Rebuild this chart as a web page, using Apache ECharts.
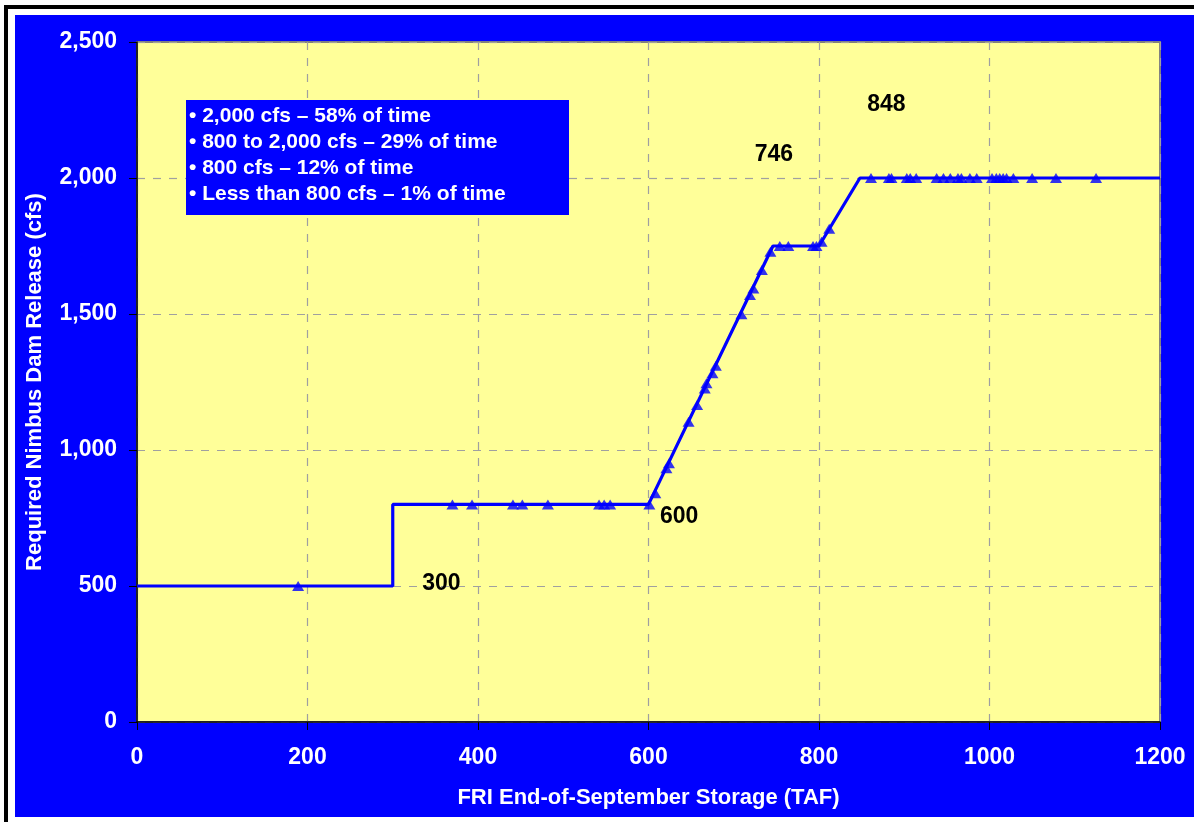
<!DOCTYPE html>
<html>
<head>
<meta charset="utf-8">
<script src="https://cdn.jsdelivr.net/npm/echarts@6/dist/echarts.min.js"></script>
<style>
html,body{margin:0;padding:0;background:#fff;}
#chart{width:1194px;height:822px;}
</style>
</head>
<body>
<div id="chart"></div>
<script>
// Rule line (FRI storage TAF -> required release cfs)
const ruleX = [0, 300, 300, 600, 746, 800, 848, 1200];
const ruleY = [500, 500, 800, 800, 1750, 1750, 2000, 2000];

// Simulated years (triangles)
const obsX = [189,
  370, 393, 441, 452, 482, 542, 548, 555, 601,
  608, 621, 624, 647, 657, 666, 668, 675, 679, 709, 719, 723, 733, 743,
  754, 764, 793, 797, 803, 812,
  861, 882, 885, 903, 907, 914, 938, 946, 954, 963, 967, 977, 985, 1003, 1008, 1012, 1016, 1020, 1028, 1050, 1078, 1125];
const obsY = [500,
  800, 800, 800, 800, 800, 800, 800, 800, 800,
  841, 933, 951, 1104, 1165, 1226, 1245, 1282, 1310, 1499, 1570, 1594, 1662, 1729,
  1750, 1750, 1750, 1750, 1766, 1813,
  2000, 2000, 2000, 2000, 2000, 2000, 2000, 2000, 2000, 2000, 2000, 2000, 2000, 2000, 2000, 2000, 2000, 2000, 2000, 2000, 2000, 2000];

const xTicks = [0, 200, 400, 600, 800, 1000, 1200];
const yTicks = [0, 500, 1000, 1500, 2000, 2500];

const annoText = ['300', '600', '746', '848'];
const annoX = [357, 636, 747, 879];
const annoY = [507, 754, 2085, 2268];

const legendLines = [
  '• 2,000 cfs – 58% of time',
  '• 800 to 2,000 cfs – 29% of time',
  '• 800 cfs – 12% of time',
  '• Less than 800 cfs – 1% of time'
];

const FONT = '"Liberation Sans", Arial, sans-serif';
const BLUE = '#0000FF';

const chart = echarts.init(document.getElementById('chart'));
const ruleData = ruleX.map((x, i) => [x, ruleY[i]]);
const obsData = obsX.map((x, i) => [x, obsY[i]]);

chart.setOption({
  backgroundColor: '#ffffff',
  animation: false,
  textStyle: {fontFamily: FONT},
  graphic: [
    {type: 'rect', z: -100, shape: {x: 6, y: 7, width: 1200, height: 830}, style: {fill: '#ffffff', stroke: '#000000', lineWidth: 4}},
    {type: 'rect', z: -99, shape: {x: 15, y: 15, width: 1185, height: 802}, style: {fill: BLUE}},
    {type: 'rect', z: 10, shape: {x: 186, y: 100, width: 383, height: 115}, style: {fill: BLUE}},
    ...legendLines.map((t, i) => ({
      type: 'text', z: 11, x: 189, y: 116 + i * 26,
      style: {text: t, fill: '#ffffff', font: 'bold 21px ' + FONT, verticalAlign: 'middle', align: 'left'}
    }))
  ],
  grid: {
    left: 137, top: 42, right: 34, bottom: 100,
    show: true, backgroundColor: '#FFFF99', borderColor: '#808080', borderWidth: 2
  },
  xAxis: {
    type: 'value', min: 0, max: 1200, interval: 200,
    name: 'FRI End-of-September Storage (TAF)',
    nameLocation: 'middle', nameGap: 65,
    nameTextStyle: {color: '#fff', fontWeight: 'bold', fontSize: 22, fontFamily: FONT},
    axisLine: {show: true, onZero: false, lineStyle: {color: '#000', width: 1.5}},
    axisTick: {show: true, length: 8, lineStyle: {color: '#000'}},
    axisLabel: {color: '#fff', fontWeight: 'bold', fontSize: 23, margin: 24, fontFamily: FONT,
      formatter: v => xTicks.includes(v) ? String(v) : ''},
    splitLine: {show: true, lineStyle: {color: '#A0A0A0', type: [8, 8], width: 1.2}}
  },
  yAxis: {
    type: 'value', min: 0, max: 2500, interval: 500,
    name: 'Required Nimbus Dam Release (cfs)',
    nameLocation: 'middle', nameGap: 91, nameRotate: 90,
    nameTextStyle: {color: '#fff', fontWeight: 'bold', fontSize: 22, fontFamily: FONT},
    axisLine: {show: true, onZero: false, lineStyle: {color: '#000', width: 1.5}},
    axisTick: {show: true, length: 8, lineStyle: {color: '#000'}},
    axisLabel: {color: '#fff', fontWeight: 'bold', fontSize: 23, margin: 20, fontFamily: FONT,
      formatter: v => yTicks.includes(v) ? v.toLocaleString('en-US') : ''},
    splitLine: {show: true, lineStyle: {color: '#A0A0A0', type: [8, 8], width: 1.2}}
  },
  series: [
    {
      type: 'line', data: ruleData, symbol: 'none', z: 3,
      lineStyle: {color: BLUE, width: 3.2},
      markPoint: {
        symbol: 'circle', symbolSize: 0,
        label: {show: true, position: 'inside', color: '#000', fontWeight: 'bold', fontSize: 23, fontFamily: FONT, formatter: p => p.name},
        data: annoText.map((t, i) => ({name: t, coord: [annoX[i], annoY[i]]}))
      }
    },
    {
      type: 'scatter', data: obsData, symbol: 'triangle', symbolSize: [12, 10], z: 4,
      itemStyle: {color: BLUE}
    }
  ]
});
</script>
</body>
</html>
